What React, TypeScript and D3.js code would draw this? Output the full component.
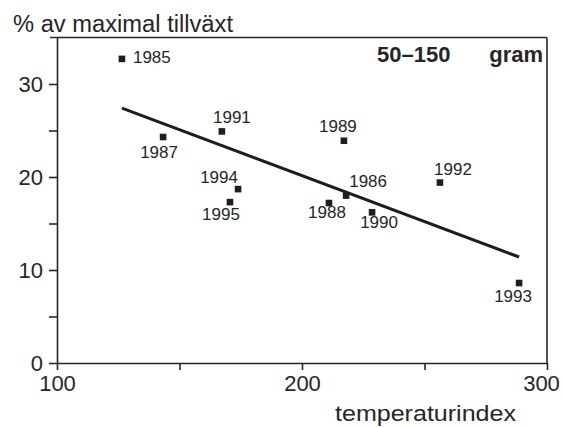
import React, { useEffect, useRef } from "react";
import * as d3 from "d3";

const years = [1985, 1986, 1987, 1988, 1989, 1990, 1991, 1992, 1993, 1994, 1995];
const tempIndex = [126.5, 218, 143.3, 211, 217.1, 228.6, 167.3, 256.3, 288.6, 173.9, 170.6];
const growthPct = [32.7, 18.0, 24.3, 17.2, 23.9, 16.2, 24.9, 19.4, 8.6, 18.7, 17.3];

const regressionX = [126.5, 288.6];
const regressionY = [27.4, 11.4];

const xTicks = [100, 150, 200, 250, 300];
const xTickLabels = ["100", "", "200", "", "300"];
const yTicks = [0, 5, 10, 15, 20, 25, 30];
const yTickLabels = ["0", "", "10", "", "20", "", "30"];

const yTitle = "% av maximal tillväxt";
const xTitle = "temperaturindex";
const panelLabelA = "50–150";
const panelLabelB = "gram";

// label placement offsets (pixels) relative to each marker: [dx, baseline dy, anchor]
const labelPlacement: Record<number, [number, number, string]> = {
  1985: [11, 4, "start"],
  1986: [22, -9, "middle"],
  1987: [-4, 21, "middle"],
  1988: [-2, 15, "middle"],
  1989: [-6, -9, "middle"],
  1990: [7, 16, "middle"],
  1991: [10, -8, "middle"],
  1992: [13, -8, "middle"],
  1993: [-6, 19, "middle"],
  1994: [-19, -6, "middle"],
  1995: [-9, 18, "middle"],
};

const W = 564;
const H = 427;
const INK = "#262626";
const FONT = "'Liberation Sans', Arial, Helvetica, sans-serif";

export default function App() {
  const xAxisRef = useRef<SVGGElement>(null);
  const yAxisRef = useRef<SVGGElement>(null);

  const x = d3.scaleLinear().domain([100, 300]).range([57, 547]);
  const y = d3.scaleLinear().domain([0, 35]).range([363, 37.5]);

  useEffect(() => {
    const xa = d3
      .axisBottom(x)
      .tickValues(xTicks)
      .tickSize(7)
      .tickSizeOuter(0)
      .tickPadding(5)
      .tickFormat((_d, i) => xTickLabels[i]);
    const xg = d3.select(xAxisRef.current!);
    xg.call(xa as any);
    xg.select(".domain").attr("stroke", INK).attr("stroke-width", 1.6);
    xg.selectAll(".tick line").attr("stroke", INK).attr("stroke-width", 1.6);
    xg.selectAll(".tick text")
      .attr("fill", INK)
      .attr("dx", (_d: any, i: number) => (i === xTicks.length - 1 ? -6 : 0))
      .style("font-size", "22px")
      .style("font-family", FONT);

    const ya = d3
      .axisLeft(y)
      .tickValues(yTicks)
      .tickSize(8)
      .tickSizeOuter(0)
      .tickPadding(6)
      .tickFormat((_d, i) => yTickLabels[i]);
    const yg = d3.select(yAxisRef.current!);
    yg.call(ya as any);
    yg.select(".domain").attr("stroke", INK).attr("stroke-width", 1.6);
    yg.selectAll(".tick line").attr("stroke", INK).attr("stroke-width", 1.6);
    yg.selectAll(".tick text")
      .attr("fill", INK)
      .style("font-size", "22px")
      .style("font-family", FONT);
  }, []);

  const line = d3
    .line<number>()
    .x((d) => x(d))
    .y((_d, i) => y(regressionY[i]));

  const [x0, x1] = x.range();
  const [yBottom, yTop] = y.range();

  return (
    <svg
      width={W}
      height={H}
      style={{ position: "absolute", left: 0, top: 0, background: "#fff" }}
      fontFamily={FONT}
    >
      <rect width={W} height={H} fill="#fff" />
      {/* frame top and right */}
      <line x1={x0 - 7} x2={x1} y1={yTop} y2={yTop} stroke={INK} strokeWidth={1.6} />
      <line x1={x1} x2={x1} y1={yTop} y2={yBottom} stroke={INK} strokeWidth={1.6} />
      <g ref={xAxisRef} transform={`translate(0,${yBottom})`} />
      <g ref={yAxisRef} transform={`translate(${x0},0)`} />

      <path d={line(regressionX) || ""} fill="none" stroke="#1e1e1e" strokeWidth={3} />

      {years.map((yr, i) => {
        const cx = x(tempIndex[i]);
        const cy = y(growthPct[i]);
        const [dx, dy, anchor] = labelPlacement[yr];
        return (
          <g key={yr}>
            <rect x={cx - 3.3} y={cy - 3.3} width={6.6} height={6.6} fill="#1e1e1e" />
            <text
              x={cx + dx}
              y={cy + dy}
              textAnchor={anchor as any}
              fontSize={17}
              fill={INK}
            >
              {yr}
            </text>
          </g>
        );
      })}

      <text x={377} y={62} fontSize={22} fontWeight="bold" fill={INK}>
        {panelLabelA}
      </text>
      <text x={543} y={62} fontSize={22} fontWeight="bold" fill={INK} textAnchor="end">
        {panelLabelB}
      </text>

      <text x={13} y={32} fontSize={23} fill={INK} textLength={220} lengthAdjust="spacingAndGlyphs">
        {yTitle}
      </text>
      <text x={335} y={421} fontSize={22} fill={INK} textLength={181} lengthAdjust="spacingAndGlyphs">
        {xTitle}
      </text>
    </svg>
  );
}
